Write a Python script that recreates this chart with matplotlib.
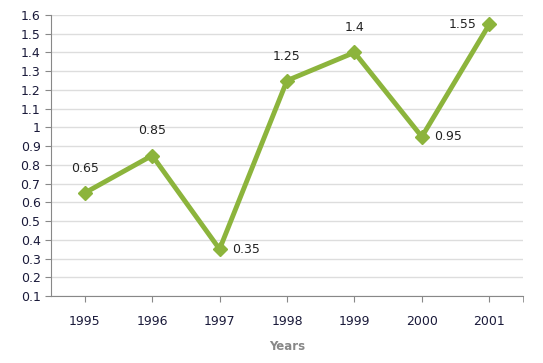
import matplotlib.pyplot as plt
import numpy as np

years = ['1995', '1996', '1997', '1998', '1999', '2000', '2001']
values = [0.65, 0.85, 0.35, 1.25, 1.4, 0.95, 1.55]
label_side = ['above', 'above', 'right', 'above', 'above', 'right', 'left']

green = '#8cb43c'
fig = plt.figure(figsize=(5.43, 3.63), dpi=100)
ax = fig.add_axes([51 / 543, 1 - 296 / 363, 472 / 543, 281 / 363])

x = np.arange(len(years))
ax.plot(x, values, color=green, linewidth=3.5, marker='D', markersize=7,
        markeredgecolor=green, markerfacecolor=green, zorder=3)

offsets = {'above': (0, 13, 'center', 'bottom'),
           'right': (9, 0, 'left', 'center'),
           'left': (-9, 0, 'right', 'center')}
for xi, v, side in zip(x, values, label_side):
    dx, dy, ha, va = offsets[side]
    ax.annotate(f'{v:g}', (xi, v), xytext=(dx, dy), textcoords='offset points',
                ha=ha, va=va, fontsize=9, color='#222222')

ax.set_xlim(-0.5, 6.5)
ax.set_ylim(0.1, 1.6)
ticks = np.arange(0.1, 1.61, 0.1).round(1)
ax.set_yticks(ticks)
ax.set_yticklabels([f'{t:g}' for t in ticks])
ax.set_xticks(x)
ax.set_xticklabels(years)
ax.set_xticks(np.array([6.5]), minor=True)

ax.grid(axis='y', color='#dddddd', linewidth=1)
ax.set_axisbelow(True)
for s in ['top', 'right']:
    ax.spines[s].set_visible(False)
for s in ['left', 'bottom']:
    ax.spines[s].set_color('#888888')
ax.tick_params(axis='both', which='both', colors='#888888', labelcolor='#1a1a3a',
               labelsize=9, length=4)
ax.tick_params(axis='x', pad=10)
ax.set_xlabel('Years', fontsize=8.5, fontweight='bold', color='#888888', labelpad=8)

fig.savefig('out.png', dpi=100)
